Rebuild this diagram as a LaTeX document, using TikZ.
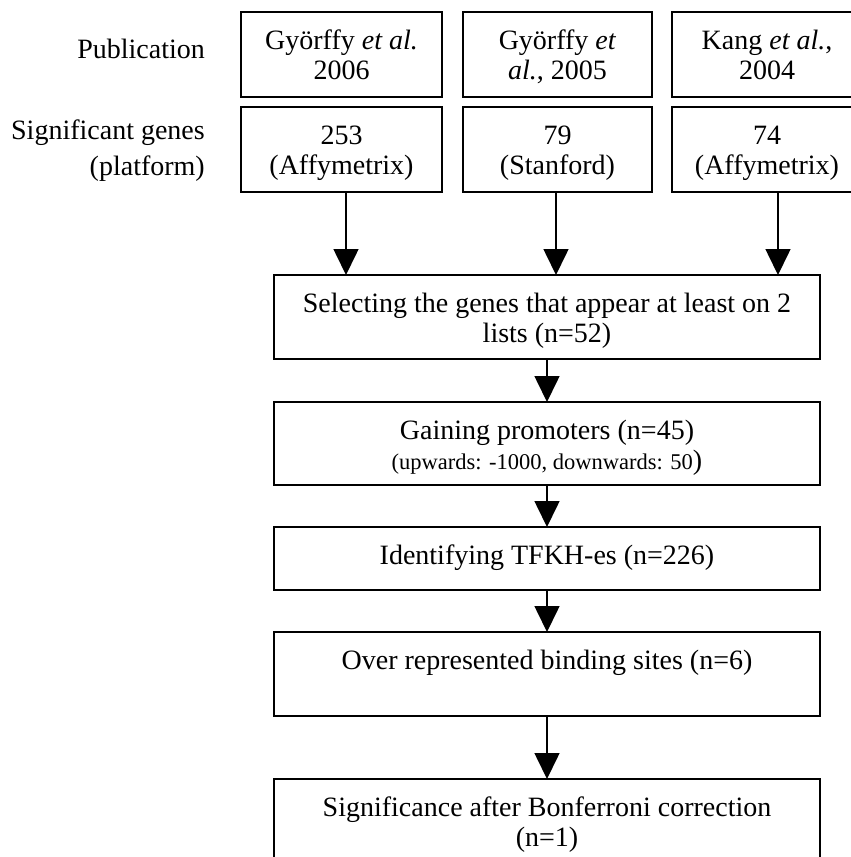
\documentclass[tikz,border=0pt]{standalone}
\usepackage{fontspec}
\setmainfont{Liberation Serif}
\usetikzlibrary{arrows.meta}
\newcommand{\bxt}[3]{\parbox[c][#2pt][t]{#1pt}{\centering\rule{0pt}{37pt}#3\par}}
\begin{document}
\begin{tikzpicture}[x=1pt,y=1pt,
  bx/.style={draw,line width=1.6pt,inner sep=0pt,outer sep=0pt,anchor=north west},
  lbl/.style={inner sep=0pt,anchor=base east,font=\fontsize{28}{36}\selectfont},
  arr/.style={line width=1.6pt,-{Triangle[length=26pt,width=25pt]}},
  font=\fontsize{28}{30}\selectfont]
\useasboundingbox (0,0) rectangle (851,-857);
\clip (0,0) rectangle (851,-857);
% labels
\node[lbl] (lpub) at (205,-58) {Publication};
\node[lbl] (lgen) at (205,-139) {\parbox[t]{260pt}{\raggedleft Significant genes\\(platform)}};
% top boxes
\node[bx] (pub1) at (241,-12) {\bxt{201}{85}{Györffy \textit{et al.}\\2006}};
\node[bx] (pub2) at (463,-12) {\bxt{189}{85}{Györffy \textit{et}\\\textit{al.}, 2005}};
\node[bx] (pub3) at (672,-12) {\bxt{190}{85}{Kang \textit{et al.},\\2004}};
\node[bx] (gen1) at (241,-107) {\bxt{201}{85}{253\\(Affymetrix)}};
\node[bx] (gen2) at (463,-107) {\bxt{189}{85}{79\\(Stanford)}};
\node[bx] (gen3) at (672,-107) {\bxt{190}{85}{74\\(Affymetrix)}};
% process boxes
\node[bx] (sel) at (274,-275) {\bxt{546}{84}{Selecting the genes that appear at least on 2\\lists (n=52)}};
\node[bx] (gain) at (274,-402) {\bxt{546}{83}{Gaining promoters (n=45)\\{\fontsize{22.5}{26}\selectfont (upwards: -1000, downwards: 50})}};
\node[bx] (tfkh) at (274,-527) {\bxt{546}{63}{Identifying TFKH-es (n=226)}};
\node[bx] (over) at (274,-632) {\bxt{546}{84}{Over represented binding sites (n=6)}};
\node[bx] (sig) at (274,-779) {\bxt{546}{101}{Significance after Bonferroni correction\\(n=1)}};
% connectors
\coordinate (a1) at ([xshift=4.5pt]gen1.south);
\coordinate (a2) at ([xshift=-1.5pt]gen2.south);
\coordinate (a3) at ([xshift=11pt]gen3.south);
\draw[arr] (a1) -- (a1 |- sel.north);
\draw[arr] (a2) -- (a2 |- sel.north);
\draw[arr] (a3) -- (a3 |- sel.north);
\draw[arr] (sel) -- (gain);
\draw[arr] (gain) -- (tfkh);
\draw[arr] (tfkh) -- (over);
\draw[arr] (over) -- (sig);
\end{tikzpicture}
\end{document}
